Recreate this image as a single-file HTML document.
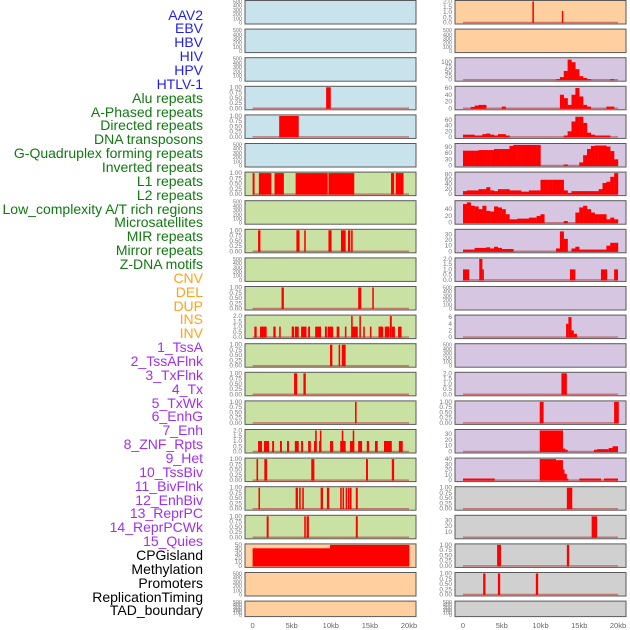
<!DOCTYPE html>
<html><head><meta charset="utf-8"><style>
html,body{margin:0;padding:0;background:#fff;width:630px;height:630px;overflow:hidden}
#labels{position:absolute;left:0;top:0;width:203px;height:630px}
.lb{position:absolute;right:0;font:14px "Liberation Sans",sans-serif;white-space:nowrap;line-height:14px}
svg{position:absolute;left:0;top:0}
</style></head><body>
<div id="labels"></div>
<svg id="chart" width="630" height="630"></svg>
<script>
// ---- labels ----
const trackLabels = ["AAV2","EBV","HBV","HIV","HPV","HTLV-1","Alu repeats","A-Phased repeats","Directed repeats","DNA transposons","G-Quadruplex forming repeats","Inverted repeats","L1 repeats","L2 repeats","Low_complexity A/T rich regions","Microsatellites","MIR repeats","Mirror repeats","Z-DNA motifs","CNV","DEL","DUP","INS","INV","1_TssA","2_TssAFlnk","3_TxFlnk","4_Tx","5_TxWk","6_EnhG","7_Enh","8_ZNF_Rpts","9_Het","10_TssBiv","11_BivFlnk","12_EnhBiv","13_ReprPC","14_ReprPCWk","15_Quies","CPGisland","Methylation","Promoters","ReplicationTiming","TAD_boundary"];
const labelGroups = [6,13,5,15,5];
const groupColors = ["#1f1fef","#107a10","#ffa31a","#a030f0","#000000"];

// ---- left column data (kb) ----
const L3s=[9.4], L3e=[10.0];
const L4s=[3.4], L4e=[5.9];
const L6s=[0,0.8,2.8,5.5,9.7,17.7,18.3], L6e=[0.25,2.4,4.0,9.6,13.0,18.1,19.3];
const L8s=[0.7,5.6,6.6,9.7,11.3,12.2,12.6], L8e=[1.0,6.0,6.8,10.1,11.9,12.5,12.8];
const L10s=[3.7,13.5,15.3], L10e=[4.0,13.9,15.5];
const L11s=[0.22,0.95,2.65,3.4,5.0,5.4,6.2,7.1,8.0,9.25,9.6,10.75,11.8,12.6,12.7,13.65,14.15,15.0,16.1,16.9,17.55,17.8,18.6];
const L11e=[0.52,1.8,2.95,3.6,5.3,5.9,6.9,7.35,8.75,9.5,10.3,11.1,12.0,12.8,13.45,13.85,14.35,15.2,16.7,17.5,17.8,18.2,19.05];
const L11v=[1,1,1,1,1,1,1,1,1,1,1,1,1,2,1,2,1,1,1,1,2,1,1];
const L12s=[9.9,11.0,11.4], L12e=[10.2,11.2,11.9];
const L13s=[5.3,6.5], L13e=[5.7,6.8];
const L14s=[13.1], L14e=[13.3];
const L15s=[0.7,1.45,2.5,3.5,4.4,5.4,6.2,7.1,7.85,8.0,8.5,8.6,9.9,11.2,11.4,12.45,12.8,13.5,14.6,15.65,16.8,18.7];
const L15e=[1.2,2.1,2.75,3.75,4.65,5.9,6.45,7.45,8.2,8.2,8.75,8.8,10.3,11.9,11.6,13.0,13.0,14.0,14.9,16.0,17.8,19.2];
const L15v=[1,1,1,1,1,1,1,1,1,2,1,2,1,1,2,1,2,1,1,1,1,1];
const L16s=[0.5,1.5,7.5,14.5,17.8], L16e=[0.7,1.85,7.9,14.75,18.1];
const L17s=[0.75,5.5,5.95,6.35,8.7,9.5,11.2,11.5,11.9,12.2,12.45,13.2], L17e=[0.95,5.8,6.15,6.55,9.0,9.8,11.4,11.7,12.1,12.4,12.65,13.45];
const L18s=[1.8,6.6,6.9,13.2], L18e=[2.05,6.8,7.2,13.45];
const L19s=[0,9.9], L19e=[9.9,20.05], L19v=[42,50];

// ---- right column data ----
const R0s=[8.95,12.75], R0e=[9.15,12.9], R0v=[2,1.1];
const R2bins=[0,0,0,0,0,0,0,0,0,0,0,0,0,0,0,0,0,0,0,0,0,0,0,0,3,15,50,115,100,60,20,10,3,0,0,0,0,0,3,0];
const R3bins=[0,0,4,8,10,10,0,0,0,0,5,0,0,0,0,0,0,0,0,0,0,0,0,0,0,40,30,10,40,60,35,10,5,0,0,0,0,5,5,0];
const R4bins=[8,8,8,5,5,10,12,8,5,10,10,5,0,0,0,0,0,0,0,0,0,0,0,0,0,0,5,20,55,72,72,50,15,8,5,5,5,5,0,0];
const R5bins=[72,72,72,72,75,75,75,75,80,80,80,80,95,100,100,100,100,100,100,100,0,0,0,0,0,0,5,0,0,0,15,50,80,95,97,97,97,92,70,30];
const R6bins=[12,15,15,15,20,20,28,15,12,20,20,20,15,15,15,10,10,15,15,15,58,58,58,58,58,58,15,5,12,12,12,12,12,12,12,20,45,50,70,85];
const R7bins=[55,60,50,48,40,50,35,33,48,45,40,25,10,10,12,12,12,15,15,20,25,0,0,0,0,0,5,0,0,30,45,50,40,30,25,25,25,10,15,10];
const R8bins=[3,3,3,6,6,6,7,5,8,6,4,4,4,0,0,0,0,0,0,0,0,0,0,0,5,35,22,0,5,8,3,3,3,3,3,3,3,10,15,15];
const R9s=[0,2.1,2.5,13.8,17.8,19.5], R9e=[0.8,2.5,2.7,14.5,18.6,20.0], R9v=[1,2,1,1,1,1];
const R11s=[13.3,13.6,14.0,14.3], R11e=[13.6,14.0,14.3,14.7], R11v=[4,6,2,1];
const R13s=[12.7], R13e=[13.4], R13v=[2];
const R14s=[9.9,19.5], R14e=[10.4,20.1];
const R15s=[9.9,12.9,13.2,16.9,17.3,18.8,19.3], R15e=[12.9,13.2,13.5,17.3,18.8,19.3,20.0], R15v=[36,5,3,3,4,6,9];
const R16s=[0,9.9,12.0,12.9,13.1,13.4,15.0,18.2], R16e=[4.1,12.0,12.9,13.1,13.4,13.6,17.8,20.0], R16v=[3,40,38,20,12,3,3,3];
const R17s=[13.4], R17e=[14.1];
const R18s=[16.6], R18e=[17.3], R18v=[38];
const R19s=[4.4,13.4], R19e=[4.9,13.7];
const R20s=[2.6,4.5,9.4], R20e=[2.9,4.8,9.7];

// tick label sets
const tEmpty=[0,100,200,300,400,500], tBin=[0,0.25,0.5,0.75,1.0], tTwo=[0,0.5,1.0,1.5,2.0];
const xTickKb=[0,5,10,15,20], xTickLabels=["0","5kb","10kb","15kb","20kb"];

const BLUE="#c8e3ec",GREEN="#c9e2a4",ORANGE="#ffcf9f",PURPLE="#d6c6e2",GRAY="#d0d0d0";
// panel configs: [col,row,color,ylim,ticks,decimals,kind,d1,d2,d3]
const panels=[
 [0,0,BLUE,500,tEmpty,0,"e"],[0,1,BLUE,500,tEmpty,0,"e"],[0,2,BLUE,500,tEmpty,0,"e"],
 [0,3,BLUE,1,tBin,2,"i",L3s,L3e],[0,4,BLUE,1,tBin,2,"i",L4s,L4e],[0,5,BLUE,500,tEmpty,0,"e"],
 [0,6,GREEN,1,tBin,2,"i",L6s,L6e],[0,7,GREEN,500,tEmpty,0,"e"],[0,8,GREEN,1,tBin,2,"i",L8s,L8e],
 [0,9,GREEN,500,tEmpty,0,"e"],[0,10,GREEN,1,tBin,2,"i",L10s,L10e],[0,11,GREEN,2,tTwo,1,"i",L11s,L11e,L11v],
 [0,12,GREEN,1,tBin,2,"i",L12s,L12e],[0,13,GREEN,1,tBin,2,"i",L13s,L13e],[0,14,GREEN,1,tBin,2,"i",L14s,L14e],
 [0,15,GREEN,2,tTwo,1,"i",L15s,L15e,L15v],[0,16,GREEN,1,tBin,2,"i",L16s,L16e],[0,17,GREEN,1,tBin,2,"i",L17s,L17e],
 [0,18,GREEN,1,tBin,2,"i",L18s,L18e],[0,19,ORANGE,50,[0,10,20,30,40,50],0,"i",L19s,L19e,L19v],
 [0,20,ORANGE,500,tEmpty,0,"e"],[0,21,ORANGE,500,tEmpty,0,"e"],
 [1,0,ORANGE,2,tTwo,1,"i",R0s,R0e,R0v],[1,1,ORANGE,500,tEmpty,0,"e"],
 [1,2,PURPLE,120,[0,25,50,75,100],0,"b",R2bins],[1,3,PURPLE,62,[0,20,40,60],0,"b",R3bins],
 [1,4,PURPLE,75,[0,20,40,60],0,"b",R4bins],[1,5,PURPLE,102,[0,30,60,90],0,"b",R5bins],
 [1,6,PURPLE,85,[0,20,40,60,80],0,"b",R6bins],[1,7,PURPLE,62,[0,20,40],0,"b",R7bins],
 [1,8,PURPLE,37,[0,10,20,30],0,"b",R8bins],[1,9,PURPLE,2,tTwo,1,"i",R9s,R9e,R9v],
 [1,10,PURPLE,500,tEmpty,0,"e"],[1,11,PURPLE,6.3,[0,2,4,6],0,"i",R11s,R11e,R11v],
 [1,12,PURPLE,500,tEmpty,0,"e"],[1,13,PURPLE,2,tTwo,1,"i",R13s,R13e,R13v],
 [1,14,PURPLE,1,tBin,2,"i",R14s,R14e],[1,15,PURPLE,36,[0,10,20,30],0,"i",R15s,R15e,R15v],
 [1,16,PURPLE,40,[0,10,20,30,40],0,"i",R16s,R16e,R16v],[1,17,GRAY,1,tBin,2,"i",R17s,R17e],
 [1,18,GRAY,38,[10,20,30],0,"i",R18s,R18e,R18v],[1,19,GRAY,1,tBin,2,"i",R19s,R19e],
 [1,20,GRAY,1,tBin,2,"i",R20s,R20e],[1,21,GRAY,500,tEmpty,0,"e"]
];

// labels
(function(){
 const box=document.getElementById('labels');let idx=0;
 labelGroups.forEach((n,g)=>{for(let k=0;k<n;k++){
  const d=document.createElement('div');d.className='lb';
  
  
  d.style.top=(15+idx*13.86-7.5)+'px';d.style.color=groupColors[g];
  d.textContent=trackLabels[idx];box.appendChild(d);idx++;}});
})();

const NS="http://www.w3.org/2000/svg";
const svg=document.getElementById('chart');
function mk(tag,attrs,parent){const e=document.createElementNS(NS,tag);for(const k in attrs)e.setAttribute(k,attrs[k]);(parent||svg).appendChild(e);return e;}
const colX=[{x0:245,x1:416,z:252.6,k:7.82},{x0:455,x1:626,z:463,k:7.75}];

panels.forEach(p=>{
 const [col,row,color,ylim,ticks,dec,kind,d1,d2,d3]=p;
 const C=colX[col];
 const top=row*28.6+0.5, h=(row===21)?15.5:23.5;
 const xs=kb=>C.z+kb*C.k;
 const yb=top+h-1.5, yt=top+1;
 const ys=v=>yb-Math.min(v,ylim)/ylim*(yb-yt);
 const g=mk('g',{});
 
 
 const bg=mk('rect',{x:C.x0,y:top,width:C.x1-C.x0,height:h,fill:color,stroke:'#5a5a5a','stroke-width':1},g);
 
 
 ticks.forEach(t=>{
  const tx=mk('text',{x:C.x0-3,y:ys(t)+2,'text-anchor':'end','font-size':(kind==='e'?5.5:6.5),fill:'#777','font-family':'Liberation Sans, sans-serif'},g);
  
  
  tx.textContent=t.toFixed(dec);
 });
 if(kind==='e')return;
 mk('line',{x1:xs(0),x2:xs(20),y1:yb,y2:yb,stroke:'#c0504d','stroke-width':1.5,opacity:0.7},g);
 if(kind==='b'){
  d1.forEach((v,i)=>{if(v<=0)return;
   const r=mk('rect',{x:xs(i*0.5),y:ys(v),width:xs((i+1)*0.5)-xs(i*0.5)+0.2,height:yb-ys(v)+0.5,fill:'#ff0000'},g);
   
   
  });
 } else {
  d1.forEach((s,i)=>{const v=d3?d3[i]:1;
   const w=Math.max(1.5,xs(d2[i])-xs(s));
   const r=mk('rect',{x:xs(s),y:ys(v),width:w,height:yb-ys(v)+0.5,fill:'#ff0000'},g);
   
   
  });
 }
});
// x-axis ticks
[0,1].forEach(c=>{const C=colX[c];
 xTickKb.forEach((kb,i)=>{
  const t=mk('text',{x:C.z+kb*C.k,y:628,'text-anchor':'middle','font-size':7.5,fill:'#666','font-family':'Liberation Sans, sans-serif'});
  
  
  t.textContent=xTickLabels[i];
 });
});
</script>
</body></html>
